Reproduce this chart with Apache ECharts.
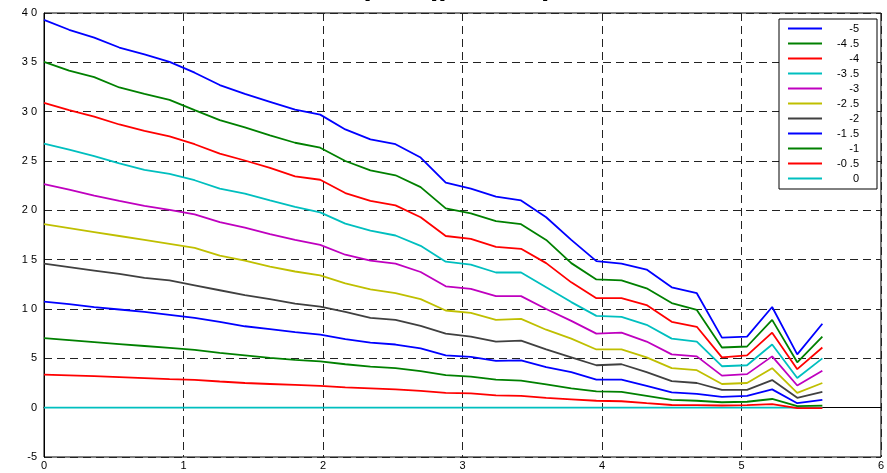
<!DOCTYPE html>
<html>
<head>
<meta charset="utf-8">
<script src="https://cdn.jsdelivr.net/npm/echarts@6/dist/echarts.min.js"></script>
<style>
html,body{margin:0;padding:0;background:#fff;}
#chart{width:887px;height:473px;}
</style>
</head>
<body>
<div id="chart"></div>
<script>
// x positions of the samples
const xs = [0,0.18,0.36,0.54,0.72,0.90,1.08,1.26,1.44,1.62,1.80,1.98,2.16,2.34,2.52,2.70,2.88,3.06,3.24,3.42,3.60,3.78,3.96,4.14,4.32,4.50,4.68,4.86,5.04,5.22,5.40,5.58];

const seriesNames = ['-5','-4.5','-4','-3.5','-3','-2.5','-2','-1.5','-1','-0.5','0'];

const b_m5  = [39.3,38.3,37.5,36.5,35.8,35.05,33.95,32.7,31.8,31.0,30.2,29.7,28.2,27.2,26.7,25.35,22.8,22.2,21.4,21.0,19.3,17.0,14.85,14.6,14.0,12.2,11.6,7.1,7.2,10.2,5.4,8.5];
const b_m45 = [35.05,34.15,33.5,32.45,31.8,31.2,30.15,29.15,28.4,27.6,26.85,26.35,25.0,24.05,23.55,22.35,20.2,19.7,18.9,18.6,17.0,14.65,13.0,12.9,12.1,10.6,9.9,6.1,6.2,8.9,4.6,7.2];
const b_m4  = [30.9,30.15,29.5,28.7,28.05,27.5,26.7,25.75,25.05,24.3,23.45,23.1,21.75,20.95,20.5,19.3,17.4,17.1,16.3,16.1,14.65,12.7,11.1,11.1,10.4,8.7,8.2,5.1,5.3,7.6,3.9,6.1];
const b_m35 = [26.75,26.15,25.5,24.75,24.1,23.7,23.05,22.2,21.7,21.0,20.35,19.8,18.65,17.95,17.45,16.4,14.8,14.5,13.7,13.7,12.2,10.7,9.3,9.2,8.4,7.0,6.7,4.2,4.3,6.4,3.0,5.0];
const b_m3  = [22.65,22.1,21.5,20.95,20.45,20.05,19.6,18.8,18.25,17.6,17.0,16.5,15.5,14.9,14.6,13.75,12.3,12.05,11.3,11.3,10.0,8.8,7.5,7.6,6.7,5.4,5.2,3.25,3.4,5.2,2.25,3.75];
const b_m25 = [18.6,18.2,17.8,17.4,17.0,16.6,16.2,15.4,14.9,14.3,13.8,13.4,12.6,12.0,11.6,11.0,9.85,9.6,8.9,9.0,7.9,7.0,5.9,5.9,5.1,4.0,3.8,2.4,2.5,4.0,1.5,2.5];
const b_m2  = [14.6,14.25,13.9,13.55,13.15,12.9,12.4,11.9,11.4,11.0,10.55,10.25,9.7,9.1,8.9,8.3,7.5,7.2,6.7,6.8,5.9,5.1,4.3,4.4,3.6,2.7,2.5,1.8,1.8,2.8,1.0,1.6];
const b_m15 = [10.75,10.5,10.2,9.95,9.7,9.4,9.1,8.7,8.25,7.95,7.65,7.4,6.95,6.6,6.4,6.0,5.3,5.15,4.75,4.8,4.1,3.6,2.85,2.85,2.2,1.55,1.4,1.1,1.2,1.85,0.45,0.8];
const b_m1  = [7.05,6.85,6.65,6.45,6.25,6.05,5.85,5.55,5.3,5.05,4.85,4.7,4.4,4.15,4.0,3.7,3.3,3.15,2.85,2.75,2.35,1.95,1.65,1.6,1.2,0.78,0.7,0.55,0.6,0.88,0.15,0.2];
const b_m05 = [3.35,3.28,3.2,3.1,3.0,2.9,2.82,2.65,2.5,2.4,2.3,2.2,2.05,1.95,1.85,1.7,1.5,1.45,1.25,1.2,1.0,0.85,0.7,0.65,0.45,0.27,0.25,0.22,0.25,0.35,-0.05,-0.05];
const b_0   = [0,0,0,0,0,0,0,0,0,0,0,0,0,0,0,0,0,0,0,0,0,0,0,0,0,0,0,0,0,0,0,0];

const allValues = [b_m5,b_m45,b_m4,b_m35,b_m3,b_m25,b_m2,b_m15,b_m1,b_m05,b_0];
const colors = ['#0000ff','#008000','#ff0000','#00bfbf','#bf00bf','#bfbf00','#404040','#0000ff','#008000','#ff0000','#00bfbf'];

const xTicks = [0,1,2,3,4,5,6];
const yTicks = [-5,0,5,10,15,20,25,30,35,40];

// partially visible (clipped) title fragments
const titlePieces = [
  {t:'(', x:360}, {t:',', x:403}, {t:'β', x:430}, {t:')', x:440}, {t:',', x:466}, {t:'β', x:541}
];

const chart = echarts.init(document.getElementById('chart'));

const series = seriesNames.map((n, i) => ({
  name: n,
  type: 'line',
  symbol: 'none',
  smooth: false,
  data: xs.map((x, j) => [x, allValues[i][j]]),
  lineStyle: {color: colors[i], width: 1.8},
  itemStyle: {color: colors[i]},
  z: 3 + (seriesNames.length - i)
}));

const dash = {type: [8, 5], color: '#222', width: 1};

chart.setOption({
  animation: false,
  backgroundColor: '#fff',
  textStyle: {fontFamily: 'Liberation Sans, Arial, sans-serif'},
  graphic: titlePieces.map(p => ({
    type: 'text', left: p.x, top: -28, z: 100,
    style: {text: p.t, fill: '#000', font: 'bold 30px "Liberation Sans", Arial, sans-serif'}
  })),
  grid: {left: 44, right: 1, top: 13, bottom: 16, show: true, borderColor: '#000', borderWidth: 1, containLabel: false},
  legend: {
    orient: 'vertical',
    left: 779, top: 19,
    backgroundColor: '#fff',
    borderColor: '#000', borderWidth: 1,
    padding: [3, 18, 4, 9],
    itemGap: 2,
    itemWidth: 34, itemHeight: 2,
    icon: 'rect',
    data: seriesNames,
    formatter: n => '{a|' + n.replace('.', ' .') + '}',
    textStyle: {
      color: '#000', fontSize: 11, fontFamily: 'Liberation Sans, Arial, sans-serif',
      rich: {a: {width: 32, align: 'right', fontSize: 11, lineHeight: 13, height: 13}}
    }
  },
  xAxis: {
    type: 'value', min: 0, max: 6, interval: 1,
    axisLine: {show: true, lineStyle: {color: '#000', width: 1}},
    axisTick: {show: false},
    axisLabel: {color: '#000', fontSize: 11, margin: 3, showMaxLabel: true,
      formatter: v => String(v)},
    splitLine: {show: true, lineStyle: dash}
  },
  yAxis: {
    type: 'value', min: -5, max: 40, interval: 5,
    axisLine: {show: true, lineStyle: {color: '#000', width: 1}},
    axisTick: {show: false},
    axisLabel: {color: '#000', fontSize: 11, margin: 7,
      formatter: v => (v >= 10 ? String(v).split('').join(' ') : String(v))},
    splitLine: {show: true, lineStyle: dash}
  },
  series: series
});
</script>
</body>
</html>
